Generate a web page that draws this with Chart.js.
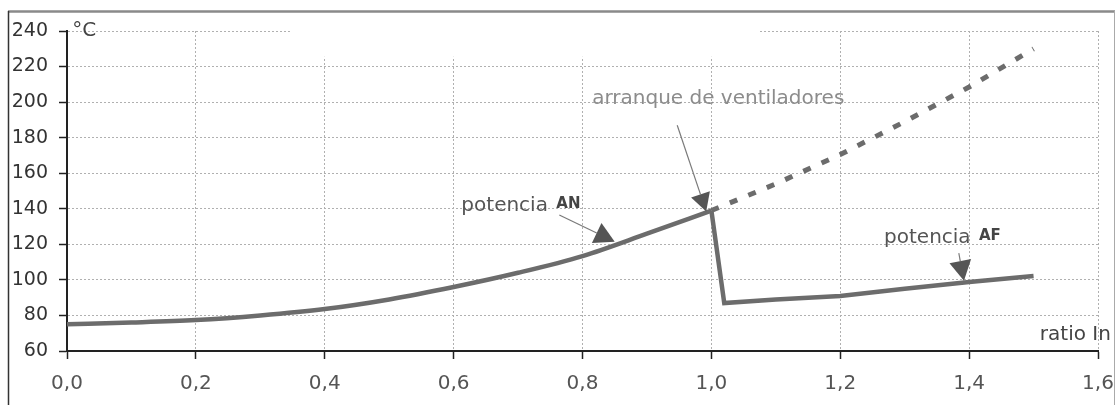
<!DOCTYPE html>
<html><head><meta charset="utf-8">
<script src="https://cdn.jsdelivr.net/npm/chart.js@4.4.1/dist/chart.umd.min.js"></script>
<style>html,body{margin:0;padding:0;background:#fff;}canvas{display:block;}</style>
</head><body>
<canvas id="c" width="1116" height="405"></canvas>
<script>
// ---- data ----
const xTickValues = [0, 0.2, 0.4, 0.6, 0.8, 1.0, 1.2, 1.4, 1.6];
const xTickLabels = ['0,0','0,2','0,4','0,6','0,8','1,0','1,2','1,4','1,6'];
const yTickValues = [60, 80, 100, 120, 140, 160, 180, 200, 220, 240];

// natural cooling (AN) curve
const anX = [0, 0.1, 0.2, 0.3, 0.4, 0.5, 0.6, 0.7, 0.8, 0.9, 1.0];
const anY = [75, 76, 77.4, 80, 83.6, 89, 96, 104, 113.4, 126, 139];
// forced cooling (AF) after fan start
const afX = [1.0, 1.02, 1.1, 1.2, 1.3, 1.4, 1.5];
const afY = [139, 87, 89, 91, 95, 98.8, 102.2];
// AN continuation without fans (dashed)
const noFanX = [1.0, 1.1, 1.2, 1.3, 1.4, 1.5];
const noFanY = [139, 154, 170.5, 189, 208.5, 230];

// annotations (data coordinates)
const notes = {
  arranque: {text: 'arranque de ventiladores', x: 0.815, y: 201.7, from: [0.947, 187], to: [0.992, 138.5]},
  an: {text: 'potencia', sub: 'AN', x: 0.612, y: 141.6, from: [0.764, 136.5], to: [0.85, 121.5]},
  af: {text: 'potencia', sub: 'AF', x: 1.268, y: 123.6, from: [1.384, 115], to: [1.392, 99.5]}
};

const pts = (xs, ys) => xs.map((x, i) => ({x: x, y: ys[i]}));
const FONT = '"DejaVu Sans", sans-serif';
const LINE = '#6c6c6c';

const framePlugin = {
  id: 'frame',
  beforeDraw(chart) {
    const ctx = chart.ctx;
    ctx.save();
    ctx.fillStyle = '#fff';
    ctx.fillRect(0, 0, chart.width, chart.height);
    ctx.strokeStyle = '#8a8a8a';
    ctx.lineWidth = 2.5;
    ctx.beginPath(); ctx.moveTo(8, 11.5); ctx.lineTo(1115, 11.5); ctx.stroke();
    ctx.strokeStyle = '#333';
    ctx.lineWidth = 1.5;
    ctx.beginPath(); ctx.moveTo(8.5, 11); ctx.lineTo(8.5, 405); ctx.stroke();
    ctx.strokeStyle = '#aaa';
    ctx.lineWidth = 1;
    ctx.beginPath(); ctx.moveTo(1114.5, 11); ctx.lineTo(1114.5, 405); ctx.stroke();
    ctx.restore();
  },
  beforeDatasetsDraw(chart) {
    // blank band at top of plot (as in the scan)
    const ctx = chart.ctx, xs = chart.scales.x, ys = chart.scales.y;
    ctx.save();
    ctx.fillStyle = '#fff';
    const x0 = xs.getPixelForValue(0.346), x1 = xs.getPixelForValue(1.075);
    const y0 = ys.getPixelForValue(244), y1 = ys.getPixelForValue(225.5);
    ctx.fillRect(x0, y0, x1 - x0, y1 - y0);
    ctx.restore();
  },
  afterDatasetsDraw(chart) {
    const ctx = chart.ctx, xs = chart.scales.x, ys = chart.scales.y;
    const P = (x, y) => [xs.getPixelForValue(x), ys.getPixelForValue(y)];
    ctx.save();
    const arrow = (from, to, head) => {
      const [x1, y1] = P(from[0], from[1]);
      const [x2, y2] = P(to[0], to[1]);
      const a = Math.atan2(y2 - y1, x2 - x1);
      const L = head, W = head * 0.55;
      const bx = x2 - L * Math.cos(a), by = y2 - L * Math.sin(a);
      ctx.strokeStyle = '#7a7a7a'; ctx.lineWidth = 1.2;
      ctx.beginPath(); ctx.moveTo(x1, y1); ctx.lineTo(bx, by); ctx.stroke();
      ctx.fillStyle = '#555';
      ctx.beginPath();
      ctx.moveTo(x2, y2);
      ctx.lineTo(bx + W * Math.sin(a), by - W * Math.cos(a));
      ctx.lineTo(bx - W * Math.sin(a), by + W * Math.cos(a));
      ctx.closePath(); ctx.fill();
    };
    ctx.textBaseline = 'middle';
    ctx.textAlign = 'left';
    // arranque
    let n = notes.arranque;
    ctx.font = '20px ' + FONT; ctx.fillStyle = '#8c8c8c';
    let p = P(n.x, n.y); ctx.fillText(n.text, p[0], p[1]);
    arrow(n.from, n.to, 18);
    // AN / AF
    [notes.an, notes.af].forEach(m => {
      const q = P(m.x, m.y);
      ctx.font = '20px ' + FONT; ctx.fillStyle = '#555';
      ctx.fillText(m.text, q[0], q[1]);
      const w = ctx.measureText(m.text + ' ').width;
      ctx.font = 'bold 15px ' + FONT; ctx.fillStyle = '#444';
      ctx.fillText(m.sub, q[0] + w + 2, q[1] - 2);
      arrow(m.from, m.to, 20);
    });
    // unit labels
    ctx.font = '20px ' + FONT; ctx.fillStyle = '#444';
    p = P(0.008, 240); ctx.fillText('°C', p[0], p[1]);
    ctx.textAlign = 'right';
    p = P(1.62, 69); ctx.fillText('ratio In', p[0], p[1]);
    ctx.restore();
  }
};

const gridOpts = {color: '#b0b0b0', lineWidth: 1, tickColor: '#222', tickBorderDash: [], tickLength: 8, tickWidth: 1.5};

new Chart(document.getElementById('c'), {
  type: 'line',
  data: {
    datasets: [
      {data: pts(noFanX, noFanY), borderColor: LINE, borderWidth: 5, borderDash: [8, 12], pointRadius: 0, tension: 0, fill: false},
      {data: pts(anX, anY), borderColor: LINE, borderWidth: 4.5, pointRadius: 0, cubicInterpolationMode: 'monotone', fill: false},
      {data: pts(afX, afY), borderColor: LINE, borderWidth: 4.5, pointRadius: 0, tension: 0, fill: false}
    ]
  },
  options: {
    responsive: false, animation: false, devicePixelRatio: 1,
    layout: {padding: {top: 31, right: 18, left: 0, bottom: 0}},
    plugins: {legend: {display: false}, tooltip: {enabled: false}},
    scales: {
      x: {
        type: 'linear', min: 0, max: 1.6,
        afterBuildTicks: s => { s.ticks = xTickValues.map(v => ({value: v})); },
        afterFit: s => { s.height = 54; s.paddingLeft = 0; s.paddingRight = 0; },
        ticks: {callback: (v, i) => xTickLabels[i], color: '#555', font: {family: FONT, size: 20}, padding: 13, maxRotation: 0, autoSkip: false},
        grid: Object.assign({}, gridOpts),
        border: {color: '#222', width: 2, dash: [2, 2]}
      },
      y: {
        min: 60, max: 240,
        afterBuildTicks: s => { s.ticks = yTickValues.map(v => ({value: v})); },
        afterFit: s => { s.width = 67; s.paddingTop = 0; s.paddingBottom = 0; },
        ticks: {color: '#333', font: {family: FONT, size: 19}, padding: 11, autoSkip: false},
        grid: Object.assign({}, gridOpts),
        border: {color: '#222', width: 2, dash: [2, 2]}
      }
    }
  },
  plugins: [framePlugin]
});
</script>
</body></html>
